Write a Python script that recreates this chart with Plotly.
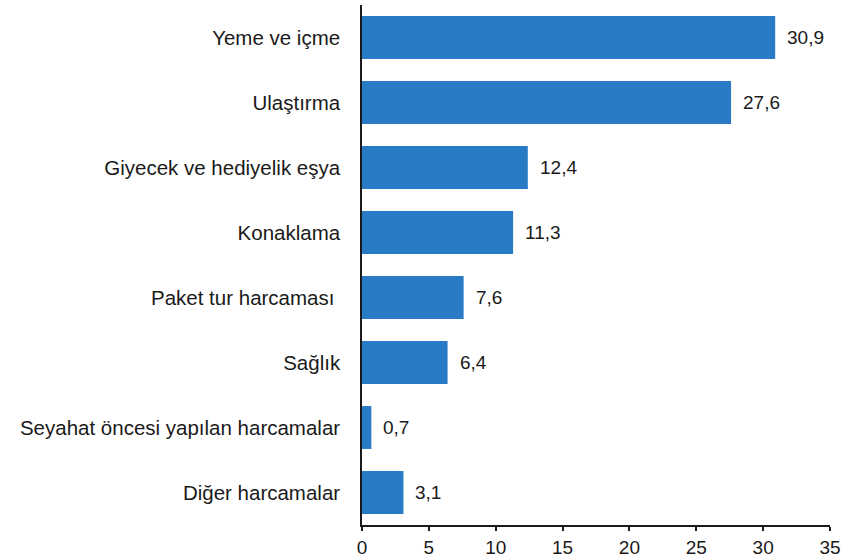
import plotly.graph_objects as go

categories = [
    "Yeme ve içme",
    "Ulaştırma",
    "Giyecek ve hediyelik eşya",
    "Konaklama",
    "Paket tur harcaması ",
    "Sağlık",
    "Seyahat öncesi yapılan harcamalar",
    "Diğer harcamalar",
]
values = [30.9, 27.6, 12.4, 11.3, 7.6, 6.4, 0.7, 3.1]
x_ticks = [0, 5, 10, 15, 20, 25, 30, 35]

labels = [f"{v:.1f}".replace(".", ",") for v in values]

fig = go.Figure()
fig.add_trace(go.Bar(
    y=categories,
    x=values,
    orientation="h",
    marker=dict(color="#2A7BC6", line=dict(width=0)),
    hoverinfo="skip",
))

for c, v, t in zip(categories, values, labels):
    fig.add_annotation(
        x=v, y=c, text=t, showarrow=False,
        xanchor="left", yanchor="middle", xshift=10,
        font=dict(family="Liberation Sans, Arial, sans-serif", size=19, color="#1a1a1a"),
    )

fig.update_layout(
    width=850, height=557,
    margin=dict(l=362, r=20, t=5, b=32),
    paper_bgcolor="white",
    plot_bgcolor="white",
    bargap=0.34,
    showlegend=False,
    font=dict(family="Liberation Sans, Arial, sans-serif", color="#1a1a1a"),
)
fig.update_xaxes(
    range=[0, 35],
    tickvals=x_ticks,
    ticktext=[str(t) for t in x_ticks],
    showgrid=False,
    zeroline=False,
    showline=True,
    linecolor="#1a1a1a",
    linewidth=1.5,
    ticks="outside",
    ticklen=4,
    tickwidth=1.5,
    tickcolor="#1a1a1a",
    automargin=False,
    tickfont=dict(size=19, color="#1a1a1a"),
)
fig.update_yaxes(
    autorange="reversed",
    showgrid=False,
    zeroline=False,
    showline=True,
    linecolor="#1a1a1a",
    linewidth=1.5,
    ticks="",
    ticklabelstandoff=16,
    automargin=False,
    tickfont=dict(size=20.5, color="#1a1a1a"),
)

fig.write_html("out.html")
